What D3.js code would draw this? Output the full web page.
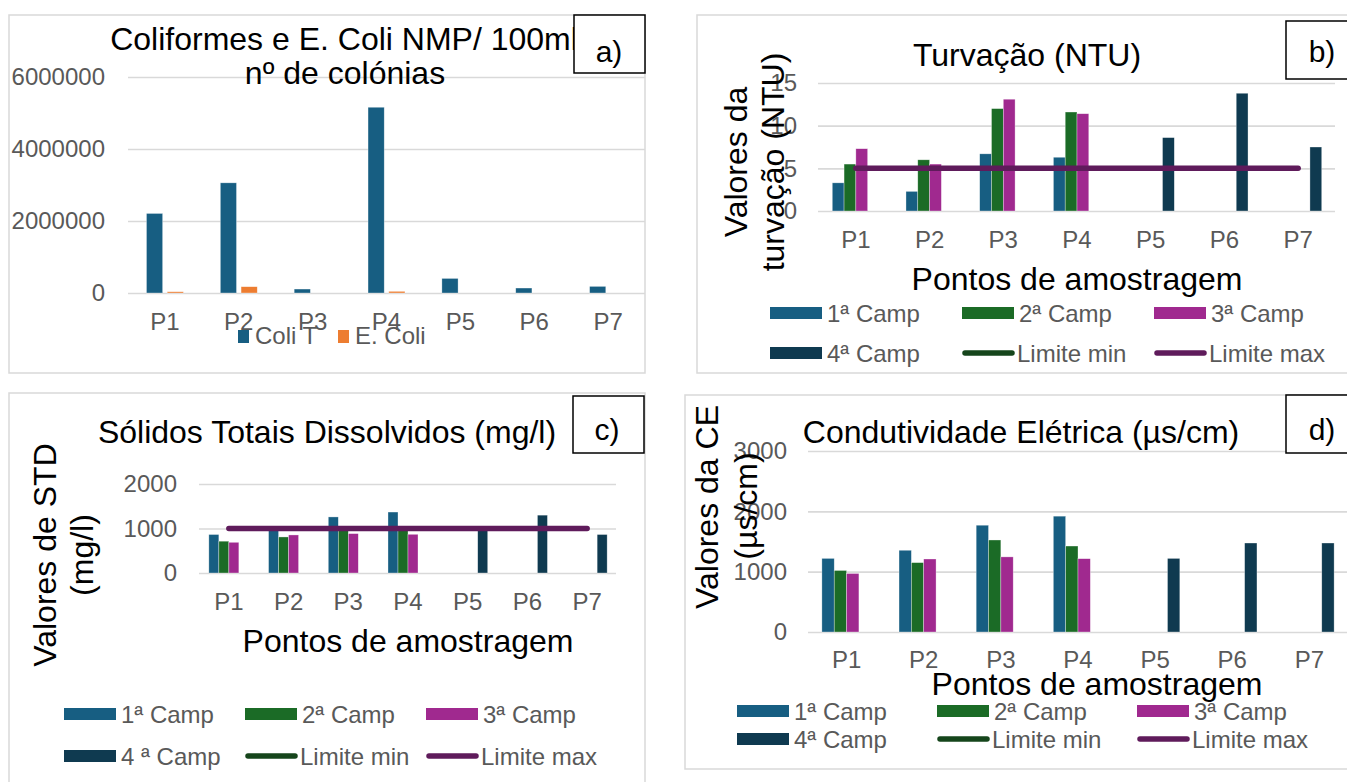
<!DOCTYPE html>
<html>
<head>
<meta charset="utf-8">
<script src="https://cdn.jsdelivr.net/npm/d3@7"></script>
<style>
html,body{margin:0;padding:0;background:#fff;}
svg{display:block;font-family:"Liberation Sans",Arial,sans-serif;}
</style>
</head>
<body>
<svg id="chart" width="1347" height="782"></svg>
<script>
// ---------- data ----------
const categories = ["P1", "P2", "P3", "P4", "P5", "P6", "P7"];

// a) Coliformes (NMP/100ml)
const coliT = [2210000, 3060000, 110000, 5160000, 405000, 138000, 184000];
const eColi = [35000, 175000, 0, 46000, 0, 0, 0];
const ticksA = [0, 2000000, 4000000, 6000000];

// b) Turvação (NTU)
const turb1 = [3.3, 2.3, 6.7, 6.3, null, null, null];
const turb2 = [5.5, 6.0, 12.0, 11.6, null, null, null];
const turb3 = [7.3, 5.5, 13.1, 11.4, null, null, null];
const turb4 = [null, null, null, null, 8.6, 13.8, 7.5];
const turbLimMax = 5;
const ticksB = [0, 5, 10, 15];

// c) Sólidos Totais Dissolvidos (mg/l)
const std1 = [865, 1000, 1260, 1370, null, null, null];
const std2 = [715, 810, 960, 960, null, null, null];
const std3 = [690, 855, 885, 870, null, null, null];
const std4 = [null, null, null, null, 980, 1300, 865];
const stdLimMax = 1000;
const ticksC = [0, 1000, 2000];

// d) Condutividade Elétrica (µs/cm)
const ce1 = [1220, 1355, 1770, 1920, null, null, null];
const ce2 = [1020, 1150, 1525, 1425, null, null, null];
const ce3 = [970, 1210, 1245, 1215, null, null, null];
const ce4 = [null, null, null, null, 1220, 1475, 1475];
const ticksD = [0, 1000, 2000, 3000];

const legendA = ["Coli T", "E. Coli"];
const legendCamp = ["1ª Camp", "2ª Camp", "3ª Camp", "4ª Camp"];
const legendCampC = ["1ª Camp", "2ª Camp", "3ª Camp", "4 ª Camp"];
const legendLim = ["Limite min", "Limite max"];

// ---------- styles ----------
const COL = {
  c1: "#175e82", c2: "#1b6b26", c3: "#a0298f", c4: "#0f3a50",
  orange: "#ed7d31", limMin: "#15451b", limMax: "#5f1b5b",
  grid: "#d9d9d9", text: "#595959", border: "#d9d9d9"
};
const svg = d3.select("#chart");

function panelBorder(x, y, w, h) {
  svg.append("rect").attr("x", x).attr("y", y).attr("width", w).attr("height", h)
    .attr("fill", "none").attr("stroke", COL.border).attr("stroke-width", 1.5);
}

function labelBox(x, y, w, h, txt, tx, ty) {
  svg.append("rect").attr("x", x).attr("y", y).attr("width", w).attr("height", h)
    .attr("fill", "#fff").attr("stroke", "#000").attr("stroke-width", 1.5);
  svg.append("text").attr("x", tx).attr("y", ty).attr("text-anchor", "middle")
    .attr("font-size", 30).attr("fill", "#000").text(txt);
}

function title(txt, x, y, size) {
  return svg.append("text").attr("x", x).attr("y", y).attr("text-anchor", "middle")
    .attr("font-size", size || 32).attr("fill", "#000").text(txt);
}

function vtitle(txt, x, y) {
  svg.append("text").attr("transform", `translate(${x},${y}) rotate(-90)`)
    .attr("text-anchor", "middle").attr("font-size", 32).attr("fill", "#000").text(txt);
}

function drawPanel(o) {
  const g = svg.append("g");
  const x0 = d3.scaleBand().domain(categories).range([o.xl, o.xr])
    .paddingInner(o.gap).paddingOuter(o.gap / 2);
  const x1 = d3.scaleBand().domain(d3.range(o.series.length)).range([0, x0.bandwidth()])
    .paddingInner(o.inner || 0);
  const y = d3.scaleLinear().domain([0, o.max]).range([o.yb, o.yt]);

  // gridlines + y tick labels via axis
  const yAxis = d3.axisLeft(y).tickValues(o.ticks).tickFormat(d3.format("d"))
    .tickSize(-(o.gr - o.gl)).tickPadding(o.gl - o.tickRight);
  const ga = g.append("g").attr("transform", `translate(${o.gl},0)`).call(yAxis);
  ga.select(".domain").remove();
  ga.selectAll(".tick line").attr("stroke", COL.grid).attr("stroke-width", 1.6);
  ga.selectAll(".tick text").attr("fill", COL.text).attr("font-size", 24)
    .attr("font-family", "Liberation Sans, Arial, sans-serif");

  // x labels
  const xa = d3.axisBottom(x0).tickSize(0).tickPadding(0);
  const gx = g.append("g").attr("transform", `translate(0,${o.xLabelY})`).call(xa);
  gx.select(".domain").remove();
  gx.selectAll(".tick text").attr("fill", COL.text).attr("font-size", 24)
    .attr("dy", 0).attr("y", 0)
    .attr("font-family", "Liberation Sans, Arial, sans-serif");

  // bars
  o.series.forEach((s, si) => {
    g.append("g").selectAll("rect")
      .data(categories.map((c, i) => ({ c, v: s.values[i] })).filter(d => d.v != null && d.v > 0))
      .join("rect")
      .attr("x", d => x0(d.c) + x1(si))
      .attr("width", x1.bandwidth())
      .attr("y", d => y(d.v))
      .attr("height", d => y(0) - y(d.v))
      .attr("fill", s.color)
      .attr("stroke", "#ffffff").attr("stroke-opacity", 0.55).attr("stroke-width", 0.6);
  });

  // limit line
  if (o.limit != null) {
    const line = d3.line().x(d => x0(d) + x0.bandwidth() / 2).y(() => y(o.limit));
    g.append("path").datum(categories).attr("d", line)
      .attr("fill", "none").attr("stroke", COL.limMax).attr("stroke-width", 5.5)
      .attr("stroke-linecap", "round");
  }
}

function legend6(cols, rows, labels) {
  const colors = [COL.c1, COL.c2, COL.c3, COL.c4];
  for (let i = 0; i < 6; i++) {
    const cx = cols[i % 3], cy = rows[Math.floor(i / 3)];
    if (i < 4) {
      svg.append("rect").attr("x", cx).attr("y", cy - 6).attr("width", 52).attr("height", 12)
        .attr("fill", colors[i]);
      svg.append("text").attr("x", cx + 57).attr("y", cy + 8.5).attr("font-size", 24)
        .attr("fill", COL.text).text(labels[i]);
    } else {
      svg.append("line").attr("x1", cx + 3).attr("x2", cx + 50).attr("y1", cy).attr("y2", cy)
        .attr("stroke", i === 4 ? COL.limMin : COL.limMax).attr("stroke-width", 5.5)
        .attr("stroke-linecap", "round");
      svg.append("text").attr("x", cx + 55).attr("y", cy + 8.5).attr("font-size", 24)
        .attr("fill", COL.text).text(legendLim[i - 4]);
    }
  }
}

// ---------- panel a ----------
panelBorder(9, 15, 636, 358);
drawPanel({
  xl: 128, xr: 645, gl: 128, gr: 645, yt: 77, yb: 293, max: 6000000, ticks: ticksA,
  tickRight: 105, xLabelY: 330, gap: 0.5, inner: 0.22,
  series: [{ values: coliT, color: COL.c1 }, { values: eColi, color: COL.orange }]
});
title("Coliformes e E. Coli NMP/ 100ml", 344, 50);
title("nº de colónias", 345, 84);
labelBox(574, 15, 71, 58, "a)", 609, 62);
// legend a
[[238, COL.c1, 255, legendA[0]], [338, COL.orange, 355, legendA[1]]].forEach(d => {
  svg.append("rect").attr("x", d[0]).attr("y", 330).attr("width", 11).attr("height", 13).attr("fill", d[1]);
  svg.append("text").attr("x", d[2]).attr("y", 344).attr("font-size", 24).attr("fill", COL.text).text(d[3]);
});

// ---------- panel b ----------
panelBorder(697, 15, 660, 358);
drawPanel({
  xl: 819, xr: 1335, gl: 818, gr: 1335, yt: 83, yb: 211, max: 15, ticks: ticksB,
  tickRight: 797, xLabelY: 248, gap: 0.36, inner: 0,
  series: [{ values: turb1, color: COL.c1 }, { values: turb2, color: COL.c2 },
           { values: turb3, color: COL.c3 }, { values: turb4, color: COL.c4 }],
  limit: turbLimMax
});
title("Turvação (NTU)", 1027, 66);
vtitle("Valores da", 747, 162);
vtitle("turvação (NTU)", 784, 162);
title("Pontos de amostragem", 1077, 290);
labelBox(1286, 21, 70, 58, "b)", 1322, 62);
legend6([770, 962, 1154], [313, 353], legendCamp);

// ---------- panel c ----------
panelBorder(9, 393, 636, 400);
drawPanel({
  xl: 199, xr: 617, gl: 199, gr: 616, yt: 484, yb: 573, max: 2000, ticks: ticksC,
  tickRight: 177, xLabelY: 610, gap: 0.33, inner: 0,
  series: [{ values: std1, color: COL.c1 }, { values: std2, color: COL.c2 },
           { values: std3, color: COL.c3 }, { values: std4, color: COL.c4 }],
  limit: stdLimMax
});
title("Sólidos Totais Dissolvidos (mg/l)", 327, 443);
vtitle("Valores de STD", 56, 555);
vtitle("(mg/l)", 93, 555);
title("Pontos de amostragem", 408, 652);
labelBox(573, 396, 71, 57, "c)", 607, 440);
legend6([64, 245, 426], [714, 756], legendCampC);

// ---------- panel d ----------
panelBorder(685, 395, 672, 374);
drawPanel({
  xl: 808, xr: 1348, gl: 808, gr: 1347, yt: 451, yb: 632, max: 3000, ticks: ticksD,
  tickRight: 787, xLabelY: 668, gap: 0.36, inner: 0,
  series: [{ values: ce1, color: COL.c1 }, { values: ce2, color: COL.c2 },
           { values: ce3, color: COL.c3 }, { values: ce4, color: COL.c4 }]
});
title("Condutividade Elétrica (µs/cm)", 1021, 443);
vtitle("Valores da CE", 718, 507);
vtitle("(µs/cm)", 757, 506);
title("Pontos de amostragem", 1097, 695);
labelBox(1286, 395, 70, 58, "d)", 1322, 440);
legend6([737, 937, 1137], [711, 739], legendCamp);
</script>
</body>
</html>
